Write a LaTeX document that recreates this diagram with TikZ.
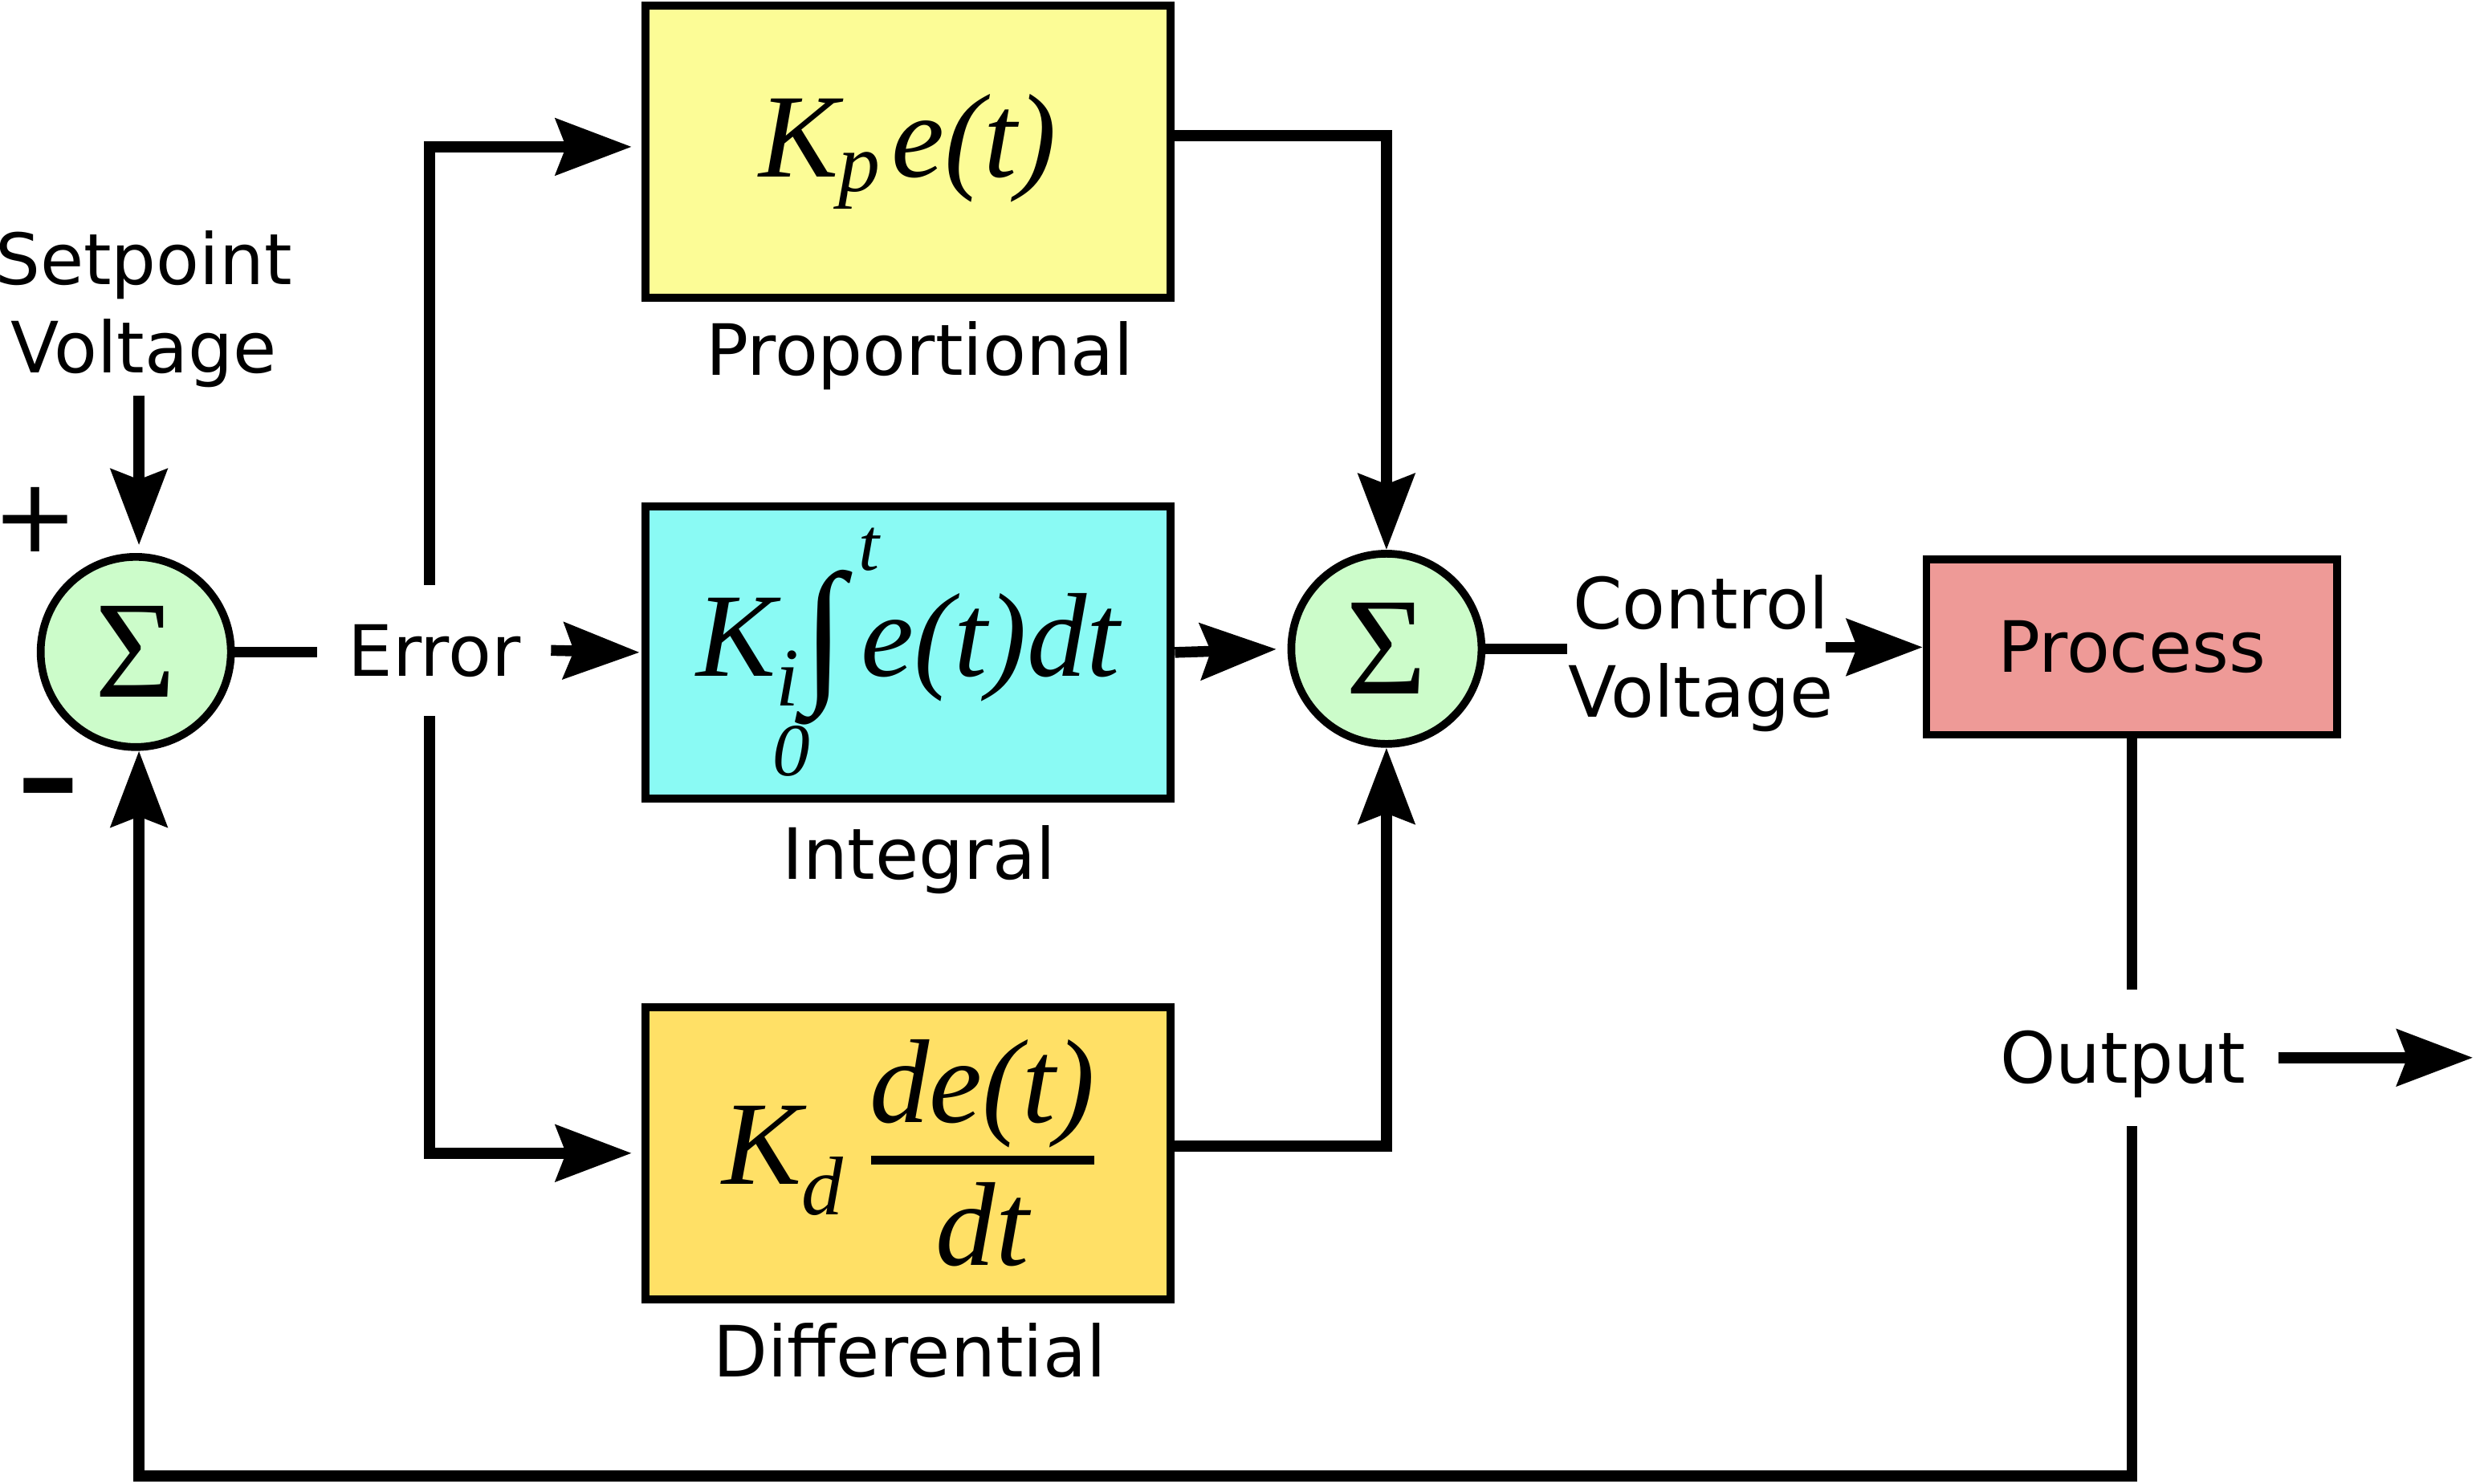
\documentclass[tikz,border=0pt]{standalone}
\usepackage{fontspec}
\usepackage{graphicx}
\setmainfont{DejaVu Sans}
\newfontfamily\tmsfont{Liberation Serif}
\usetikzlibrary{arrows.meta}
\newcommand\mthfont{\tmsfont\itshape\fontsize{43}{43}\selectfont}
\newcommand\subfont{\fontsize{30}{30}\selectfont}
\newcommand\limfont{\fontsize{27}{27}\selectfont}
\definecolor{pyel}{HTML}{FCFC96}
\definecolor{icyan}{HTML}{8AFAF4}
\definecolor{dgold}{HTML}{FFE066}
\definecolor{sgreen}{HTML}{CCFCCA}
\definecolor{procc}{HTML}{EE9A97}
\tikzset{
  lbl/.style={font=\fontsize{25.5}{31.9}\selectfont, inner sep=0pt},
  conn/.style={line width=3.9pt},
  arr/.style={conn, -{Stealth[length=0.96cm,width=0.71cm,inset=0.13cm]}},
  blk/.style={draw, line width=2.9pt, minimum width=6.66cm, minimum height=3.7cm, inner sep=0pt},
  sumnode/.style={circle, draw, line width=2.8pt, fill=sgreen, minimum size=2.41cm, inner sep=0pt,
                  font=\tmsfont\fontsize{50}{50}\selectfont},
  gapnode/.style={lbl, text height=18.6pt, text depth=0pt}
}
\begin{document}
\begin{tikzpicture}[x=0.02cm, y=-0.02cm]
\useasboundingbox (0,0) rectangle (1568,940);

% summing junctions
\node[sumnode] (s1) at (86,413) {Σ};
\node[sumnode] (s2) at (878,411) {Σ};

% blocks
\node[blk, fill=pyel] (P) at (575,96)
  {\mthfont K\raisebox{-5.4pt}{\subfont p}\kern4pt e(t)};
\node[blk, fill=icyan] (I) at (575,413.3)
  {\mthfont K\rlap{\kern-1pt\raisebox{-36pt}{\limfont 0}}\raisebox{-10.8pt}{\subfont i}\kern1.5pt\raisebox{-17.5pt}{\resizebox*{15pt}{55.8pt}{\raisebox{\depth}{\upshape ∫}}}\rlap{\kern5pt\raisebox{38pt}{\limfont t}}\kern6pt e(t)dt};
\node[blk, fill=dgold] (D) at (575,730.5)
  {\mthfont K\raisebox{-11pt}{\subfont d}\kern10pt\makebox[80.5pt]{\raisebox{22.2pt}{de(t)}}\kern-80.5pt\makebox[80.5pt]{\raisebox{-29.4pt}{dt}}\kern-80.5pt\rule[6.9pt]{80.5pt}{3.2pt}};
\node[draw, line width=2.8pt, fill=procc, minimum width=5.2cm, minimum height=2.22cm, lbl] (proc) at (1350,410) {Process};

% labels
\node[lbl, align=center] (sp) at (91,196) {Setpoint\\Voltage};
\node[inner sep=0pt, font=\fontsize{37}{37}\selectfont] (plus) at (22.5,329) {\makebox[0.68em]{+}};
\node[inner sep=0pt, anchor=base, font=\fontsize{67}{67}\selectfont] (minus) at (30.6,530) {-};
\node[gapnode, inner xsep=0.38cm, minimum height=1.65cm] (err) at (275,412) {Error};
\node[lbl, align=center] (cv) at (1077,414) {Control\\Voltage};
\node[gapnode, inner xsep=0.4cm, minimum height=1.72cm] (out) at (1344.5,670) {Output};
\node[lbl, anchor=base] (pl) at (582.5,237.5) {Proportional};
\node[lbl, anchor=base] (il) at (582,557) {Integral};
\node[lbl, anchor=base] (dl) at (576,872) {Differential};

% free ends
\coordinate (spo) at (88,250.5);
\coordinate (oe) at (1566,672);
\coordinate (fb) at (88,935);
\coordinate (cvo) at (1156,410);

% connectors
\draw[arr, shorten >=0.1cm] (spo) -- (spo |- s1.north);
\draw[conn] (s1.east) -- (s1.east -| err.west);
\draw[arr, shorten >=0.02cm] (err.east) -- (I.west);
\draw[arr, shorten >=0.12cm] ([xshift=-0.06cm]err.north) |- ([yshift=0.06cm]P.west);
\draw[arr, shorten >=0.12cm] ([xshift=-0.06cm]err.south) |- (D.west);
\draw[arr] ([yshift=0.2cm]P.east) -| (s2.north);
\draw[arr, shorten >=0.14cm] (I.east) -- (s2.west);
\draw[arr] ([yshift=0.09cm]D.east) -| (s2.south);
\draw[conn] (s2.east) -- (s2.east -| cv.west);
\draw[arr] (cvo) -- (cvo -| proc.west);
\draw[conn] (proc.south) -- (proc.south |- out.north);
\draw[arr] (out.east) -- (out.east -| oe);
\draw[arr] (proc.south |- out.south) |- (fb) -- (fb |- s1.south);
\end{tikzpicture}
\end{document}
